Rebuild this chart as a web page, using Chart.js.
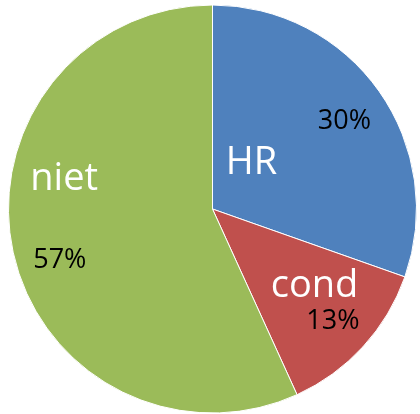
<!DOCTYPE html>
<html>
<head>
<meta charset="utf-8">
<script src="https://cdn.jsdelivr.net/npm/chart.js@4/dist/chart.umd.min.js"></script>
<style>
  html, body { margin: 0; padding: 0; background: #fff; }
  canvas { display: block; }
</style>
</head>
<body>
<canvas id="pieChart" width="420" height="414"></canvas>
<script>
// Data
const categories = ['HR', 'cond', 'niet'];
const shares = [30.4, 12.8, 56.8];
const sliceColors = ['#4F81BD', '#C0504D', '#9BBB59'];

// Label spots inside each slice: t = fraction of slice angle, r = fraction of radius (text baseline)
const namePlacement = [
  { t: 0.44, r: 0.256 },
  { t: 0.46, r: 0.659 },
  { t: 0.596, r: 0.733 }
];
const pctPlacement = [
  { t: 0.538, r: 0.755 },
  { t: 0.555, r: 0.835 },
  { t: 0.457, r: 0.802 }
];

const sliceLabels = {
  id: 'sliceLabels',
  afterDatasetsDraw(chart) {
    const ctx = chart.ctx;
    const meta = chart.getDatasetMeta(0);
    const total = shares.reduce((a, b) => a + b, 0);
    const spot = (arc, p) => {
      const a = arc.startAngle + (arc.endAngle - arc.startAngle) * p.t;
      const d = arc.outerRadius * p.r;
      return [arc.x + Math.cos(a) * d, arc.y + Math.sin(a) * d];
    };
    ctx.save();
    ctx.textAlign = 'center';
    ctx.textBaseline = 'alphabetic';
    meta.data.forEach((arc, i) => {
      let [x, y] = spot(arc, pctPlacement[i]);
      ctx.fillStyle = '#000';
      ctx.font = '27px "Open Sans"';
      ctx.fillText(Math.round(shares[i] / total * 100) + '%', x, y);
      [x, y] = spot(arc, namePlacement[i]);
      ctx.fillStyle = '#fff';
      ctx.font = '38px "Open Sans"';
      ctx.fillText(categories[i], x, y);
    });
    ctx.restore();
  }
};

new Chart(document.getElementById('pieChart').getContext('2d'), {
  type: 'pie',
  data: {
    labels: categories,
    datasets: [{
      data: shares,
      backgroundColor: sliceColors,
      borderColor: '#ffffff',
      borderWidth: 1
    }]
  },
  options: {
    responsive: false,
    animation: false,
    layout: { padding: { left: 8, right: 3, top: 4, bottom: 0 } },
    plugins: {
      legend: { display: false },
      tooltip: { enabled: false }
    }
  },
  plugins: [sliceLabels]
});
</script>
</body>
</html>
